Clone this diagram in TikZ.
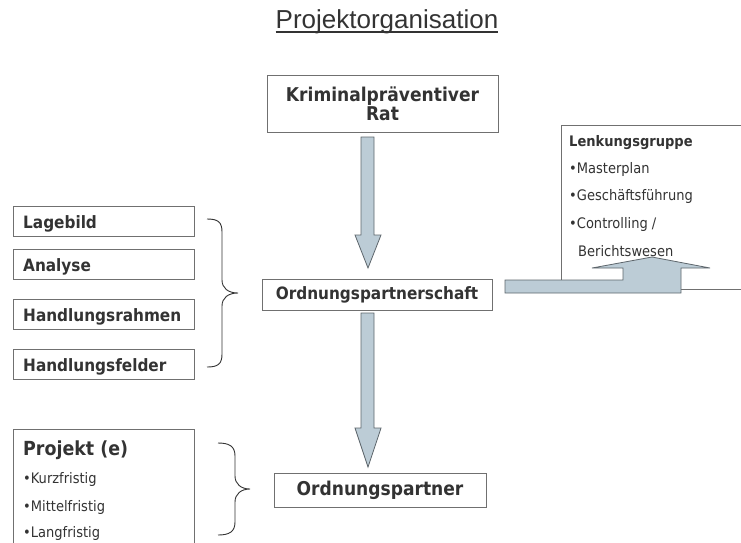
\documentclass[tikz,border=0pt]{standalone}
\usepackage{fontspec}
\setmainfont{DejaVu Sans Condensed}
\newfontfamily\titlefont{Liberation Sans}
\usetikzlibrary{calc}
\definecolor{txt}{HTML}{333333}
\definecolor{bord}{HTML}{707070}
\definecolor{arrfill}{HTML}{BCCCD6}
\definecolor{arrline}{HTML}{5E666C}
\begin{document}
\begin{tikzpicture}[x=1pt,y=-1pt,
  every node/.style={text=txt},
  box/.style={draw=bord, line width=1pt, fill=white, inner sep=0pt},
  bigbold/.style={font=\bfseries\fontsize{19}{19}\selectfont},
  midbold/.style={font=\bfseries\fontsize{17}{17}\selectfont},
  smallbold/.style={font=\bfseries\fontsize{14.5}{14.5}\selectfont},
  smalltxt/.style={font=\fontsize{14.5}{14.5}\selectfont},
  lefttext/.style={anchor=base west, inner sep=0pt},
  blockarrow/.style={draw=arrline, fill=arrfill, line width=0.8pt, line join=miter},
  bracestyle/.style={draw=txt, line width=0.9pt}]
\useasboundingbox (0,0) rectangle (741,542);

% title
\node[anchor=base, inner sep=0pt, font=\titlefont\fontsize{26}{26}\selectfont] (title) at (387,28) {Projektorganisation};
\draw[txt, line width=1.6pt] ([yshift=-4pt]title.base west) -- ([yshift=-4pt]title.base east);

% main boxes
\node[box, bigbold, align=center, minimum width=231pt, minimum height=57pt] (kr) at (382.5,103.5) {Kriminalpräventiver\\Rat};
\node[box, midbold, minimum width=230pt, minimum height=31pt] (ops) at (377,294.5) {Ordnungspartnerschaft};
\node[box, bigbold, minimum width=212pt, minimum height=34pt] (op) at (380,490) {Ordnungspartner};

% left boxes
\node[box, minimum width=181pt, minimum height=30pt] (lb) at (103.5,221) {};
\node[lefttext, midbold] (lbt) at (23,228) {Lagebild};
\node[box, minimum width=181pt, minimum height=30pt] (an) at (103.5,264) {};
\node[lefttext, midbold] (ant) at (23,271) {Analyse};
\node[box, minimum width=181pt, minimum height=30pt] (hr) at (103.5,314) {};
\node[lefttext, midbold] (hrt) at (23,321) {Handlungsrahmen};
\node[box, minimum width=181pt, minimum height=30pt] (hf) at (103.5,364) {};
\node[lefttext, midbold] (hft) at (23,371) {Handlungsfelder};

% Projekt box
\node[box, anchor=north west, minimum width=181pt, minimum height=130pt] (pj) at (13,429) {};
\node[lefttext, font=\bfseries\fontsize{19.4}{19.4}\selectfont] (pjt) at (23,455) {Projekt (e)};
\node[lefttext, smalltxt] (pj1) at (23,483) {•Kurzfristig};
\node[lefttext, smalltxt] (pj2) at (23,511) {•Mittelfristig};
\node[lefttext, smalltxt] (pj3) at (23,537) {•Langfristig};

% Lenkungsgruppe box
\node[box, anchor=north west, minimum width=184pt, minimum height=164pt] (lg) at (561,125) {};
\node[lefttext, smallbold] (lgt) at (569,146) {Lenkungsgruppe};
\node[lefttext, smalltxt] (lg1) at (569,173) {•Masterplan};
\node[lefttext, smalltxt] (lg2) at (569,200) {•Geschäftsführung};
\node[lefttext, smalltxt] (lg3) at (569,228) {•Controlling /};
\node[lefttext, smalltxt] (lg4) at (578,256) {Berichtswesen};

% block arrows
\draw[blockarrow] (361,137) -- (374,137) -- (374,235) -- (381,235) -- (368,268) -- (355,235) -- (361,235) -- cycle;
\draw[blockarrow] (361,313) -- (374,313) -- (374,428) -- (381,428) -- (368,467) -- (355,428) -- (361,428) -- cycle;
\draw[blockarrow] (505,280) -- (623,280) -- (623,268) -- (592,268) -- (652,257) -- (710,268) -- (681,268) -- (681,293) -- (505,293) -- cycle;

% braces
\draw[bracestyle] (207,219) .. controls (218,219) and (222,222) .. (222,232) -- (222,280)
  .. controls (222,288) and (228,293) .. (238,293)
  .. controls (228,293) and (222,298) .. (222,306) -- (222,354)
  .. controls (222,364) and (218,367) .. (207,367);
\draw[bracestyle] (218,443) .. controls (229,443) and (235,446) .. (235,456) -- (235,476)
  .. controls (235,484) and (241,489) .. (250,489)
  .. controls (241,489) and (235,494) .. (235,502) -- (235,522)
  .. controls (235,532) and (229,535) .. (218,535);
\end{tikzpicture}
\end{document}
